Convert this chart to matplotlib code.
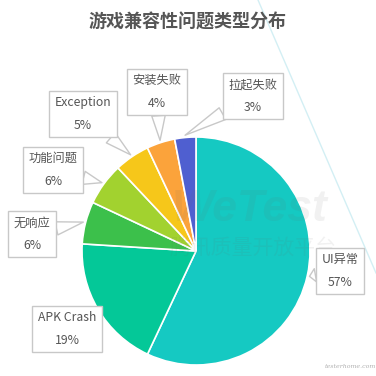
import matplotlib
matplotlib.use("Agg")
import matplotlib.pyplot as plt
import numpy as np

plt.rcParams['font.family'] = ['Noto Sans CJK SC', 'DejaVu Sans']

# data
labels = ['UI异常', 'APK Crash', '无响应', '功能问题', 'Exception', '安装失败', '拉起失败']
values = [57, 19, 6, 6, 5, 4, 3]
colors = ['#15C9C2', '#04C898', '#3CC04B', '#A2D22F', '#F6C71A', '#FBA33B', '#4F5FD0']
# label box centres, in pixels of the 376x376 picture
box_px = [(340, 271), (67, 329), (32, 234), (53, 170), (83, 114), (157, 92), (253, 96)]

W = 376
cx, cy, R = 196, 251, 114  # pie centre and radius in pixels


def to_data(px, py):
    return (px - cx) / R, (cy - py) / R


fig = plt.figure(figsize=(3.76, 3.76), dpi=100)
ax = fig.add_axes([0, 0, 1, 1])

# faint background decoration
x0, y0 = to_data(258, 0)
x1, y1 = to_data(376, 273)
ax.plot([x0, x1], [y0, y1], color='#d3eff4', lw=1, zorder=0)
ax.text(*to_data(350, 367), 'testerhome.com', fontsize=4.5, color='#b0b0b0',
        ha='center', va='center', family='DejaVu Serif', style='italic', zorder=0)

wedges, _ = ax.pie(values, colors=colors, startangle=90, counterclock=False,
                   radius=1, center=(0, 0), frame=True,
                   wedgeprops=dict(edgecolor='white', linewidth=1.2))
ax.axis('off')
ax.set_xlim(-cx / R, (W - cx) / R)
ax.set_ylim(-(W - cy) / R, cy / R)

# watermark
ax.text(*to_data(250, 210), 'WeTest', fontsize=32, fontweight='bold', style='italic',
        family='Liberation Sans', color='#666666', alpha=0.09,
        ha='center', va='center', zorder=5)
ax.text(*to_data(253, 249), '腾讯质量开放平台', fontsize=15, color='#666666',
        alpha=0.09, ha='center', va='center', zorder=5)

# call-out labels
for w, lab, v, (bx, by) in zip(wedges, labels, values, box_px):
    mid = np.deg2rad((w.theta1 + w.theta2) / 2)
    tip = (1.02 * np.cos(mid), 1.02 * np.sin(mid))
    ax.annotate(f'{lab}\n{v}%', xy=tip, xytext=to_data(bx, by),
                ha='center', va='center', fontsize=8.8, color='#555555',
                linespacing=1.95, zorder=10,
                bbox=dict(boxstyle='square,pad=0.45', fc='white', ec='#c8c8c8', lw=1),
                arrowprops=dict(arrowstyle='wedge,tail_width=1.1,shrink_factor=0.5',
                                fc='white', ec='#c8c8c8', lw=1, shrinkA=0, shrinkB=0))

fig.text(0.5, 1 - 22 / W, '游戏兼容性问题类型分布', ha='center', va='center',
         fontsize=13, fontweight='bold', color='#555555')

fig.savefig('out.png', dpi=100)
